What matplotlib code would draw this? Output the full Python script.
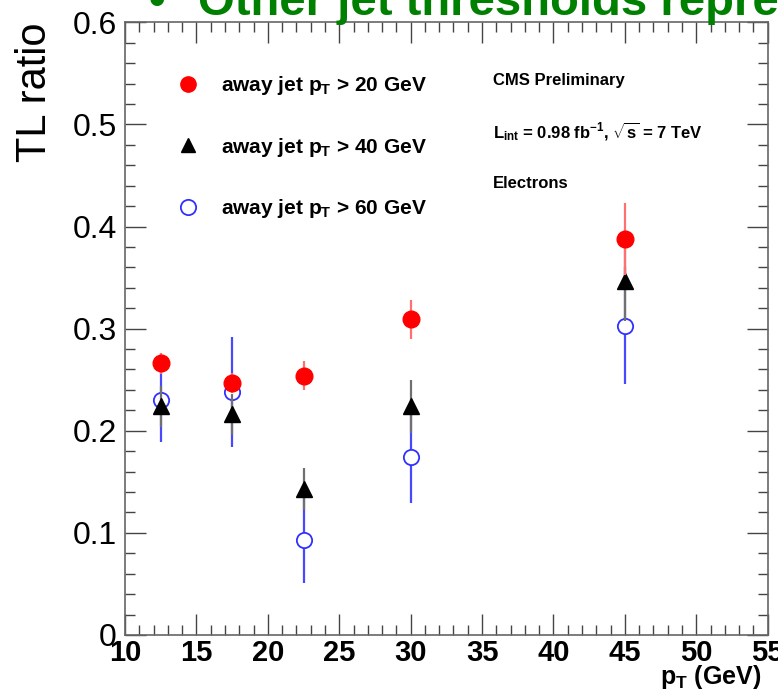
import matplotlib
matplotlib.use("Agg")
import matplotlib.pyplot as plt
from matplotlib.ticker import MultipleLocator
from matplotlib.lines import Line2D

plt.rcParams['font.family'] = ['Liberation Sans', 'DejaVu Sans']
plt.rcParams['mathtext.fontset'] = 'custom'
plt.rcParams['mathtext.rm'] = 'Liberation Sans:bold'
plt.rcParams['mathtext.it'] = 'Liberation Sans:bold'
plt.rcParams['mathtext.bf'] = 'Liberation Sans:bold'

# pT bin centres (GeV)
pt = [12.5, 17.5, 22.5, 30.0, 45.0]

# tight-to-loose ratio for each away-jet threshold
ratio_20 = [0.266, 0.247, 0.254, 0.309, 0.388]
err_20 = [0.010, 0.010, 0.014, 0.019, 0.035]

ratio_40 = [0.224, 0.216, 0.143, 0.224, 0.347]
err_40 = [0.020, 0.020, 0.021, 0.026, 0.040]

ratio_60 = [0.230, 0.238, 0.093, 0.174, 0.303]
err_60 = [0.041, 0.054, 0.042, 0.045, 0.057]

labels = ["away jet p$_{T}$ > 20 GeV",
          "away jet p$_{T}$ > 40 GeV",
          "away jet p$_{T}$ > 60 GeV"]

fig = plt.figure(figsize=(7.78, 6.97), dpi=100)
ax = fig.add_axes([0.1607, 0.089, 0.826, 0.879])

# open circles, >60 GeV
ax.errorbar(pt, ratio_60, yerr=err_60, fmt='o', ms=11, mfc='white', mec='#3030ff',
            mew=1.3, ecolor='#4848ff', elinewidth=1.6, capsize=0, zorder=3)
# triangles, >40 GeV
ax.errorbar(pt, ratio_40, yerr=err_40, fmt='^', ms=11, mfc='black', mec='black',
            ecolor='#707070', elinewidth=1.6, capsize=0, zorder=4)
# filled circles, >20 GeV
ax.errorbar(pt, ratio_20, yerr=err_20, fmt='o', ms=12, mfc='#ff0000', mec='#ff0000',
            ecolor='#ff7070', elinewidth=1.6, capsize=0, zorder=5)

ax.set_xlim(10, 55)
ax.set_ylim(0, 0.6)
ax.xaxis.set_minor_locator(MultipleLocator(1))
ax.yaxis.set_minor_locator(MultipleLocator(0.02))
ax.set_xticks(range(10, 56, 5))
ax.set_xticklabels([str(v) for v in range(10, 56, 5)], fontweight='bold', fontsize=21)
ax.set_yticks([0, 0.1, 0.2, 0.3, 0.4, 0.5, 0.6])
ax.set_yticklabels(['0', '0.1', '0.2', '0.3', '0.4', '0.5', '0.6'], fontsize=23)
ax.tick_params(which='both', direction='in', top=True, right=True, color='#444444')
ax.tick_params(which='major', length=15, width=1.0)
ax.tick_params(which='minor', length=7.5, width=1.0)
ax.tick_params(axis='x', which='major', pad=3)
ax.tick_params(axis='y', which='major', pad=6)
for s in ax.spines.values():
    s.set_color('#666666')
    s.set_linewidth(1.2)

fig.text(0.045, 0.968, "TL ratio", rotation=90, fontsize=30, ha='center', va='top')
fig.text(0.979, 0.008, "p$_{T}$ (GeV)", fontsize=18, fontweight='bold', ha='right', va='bottom')

handles = [
    Line2D([], [], ls='none', marker='o', ms=11, mfc='#ff0000', mec='#ff0000'),
    Line2D([], [], ls='none', marker='^', ms=10, mfc='black', mec='black'),
    Line2D([], [], ls='none', marker='o', ms=11, mfc='white', mec='#3030ff', mew=1.3),
]
leg = ax.legend(handles, labels, loc='upper left', bbox_to_anchor=(0.053, 0.946),
                frameon=False, prop={'weight': 'bold', 'size': 15},
                labelspacing=1.85, handletextpad=1.05, handlelength=1.0)

ax.text(0.573, 0.905, "CMS Preliminary", transform=ax.transAxes, fontsize=12,
        fontweight='bold', va='center')
ax.text(0.573, 0.822, r"L$_{int}$ = 0.98 fb$^{-1}$, $\sqrt{s}$ = 7 TeV", transform=ax.transAxes,
        fontsize=12, fontweight='bold', va='center')
ax.text(0.573, 0.737, "Electrons", transform=ax.transAxes, fontsize=12,
        fontweight='bold', va='center')

# slide bullet line above the frame
fig.text(157 / 778, 1 - 15 / 697, "\u2022", color='#008000',
         fontsize=34, fontweight='bold', va='baseline', ha='center')
fig.text(198 / 778, 1 - 15 / 697, "Other jet thresholds represented", color='#008000',
         fontsize=34, fontweight='bold', va='baseline', ha='left')

fig.savefig("out.png", dpi=100)
